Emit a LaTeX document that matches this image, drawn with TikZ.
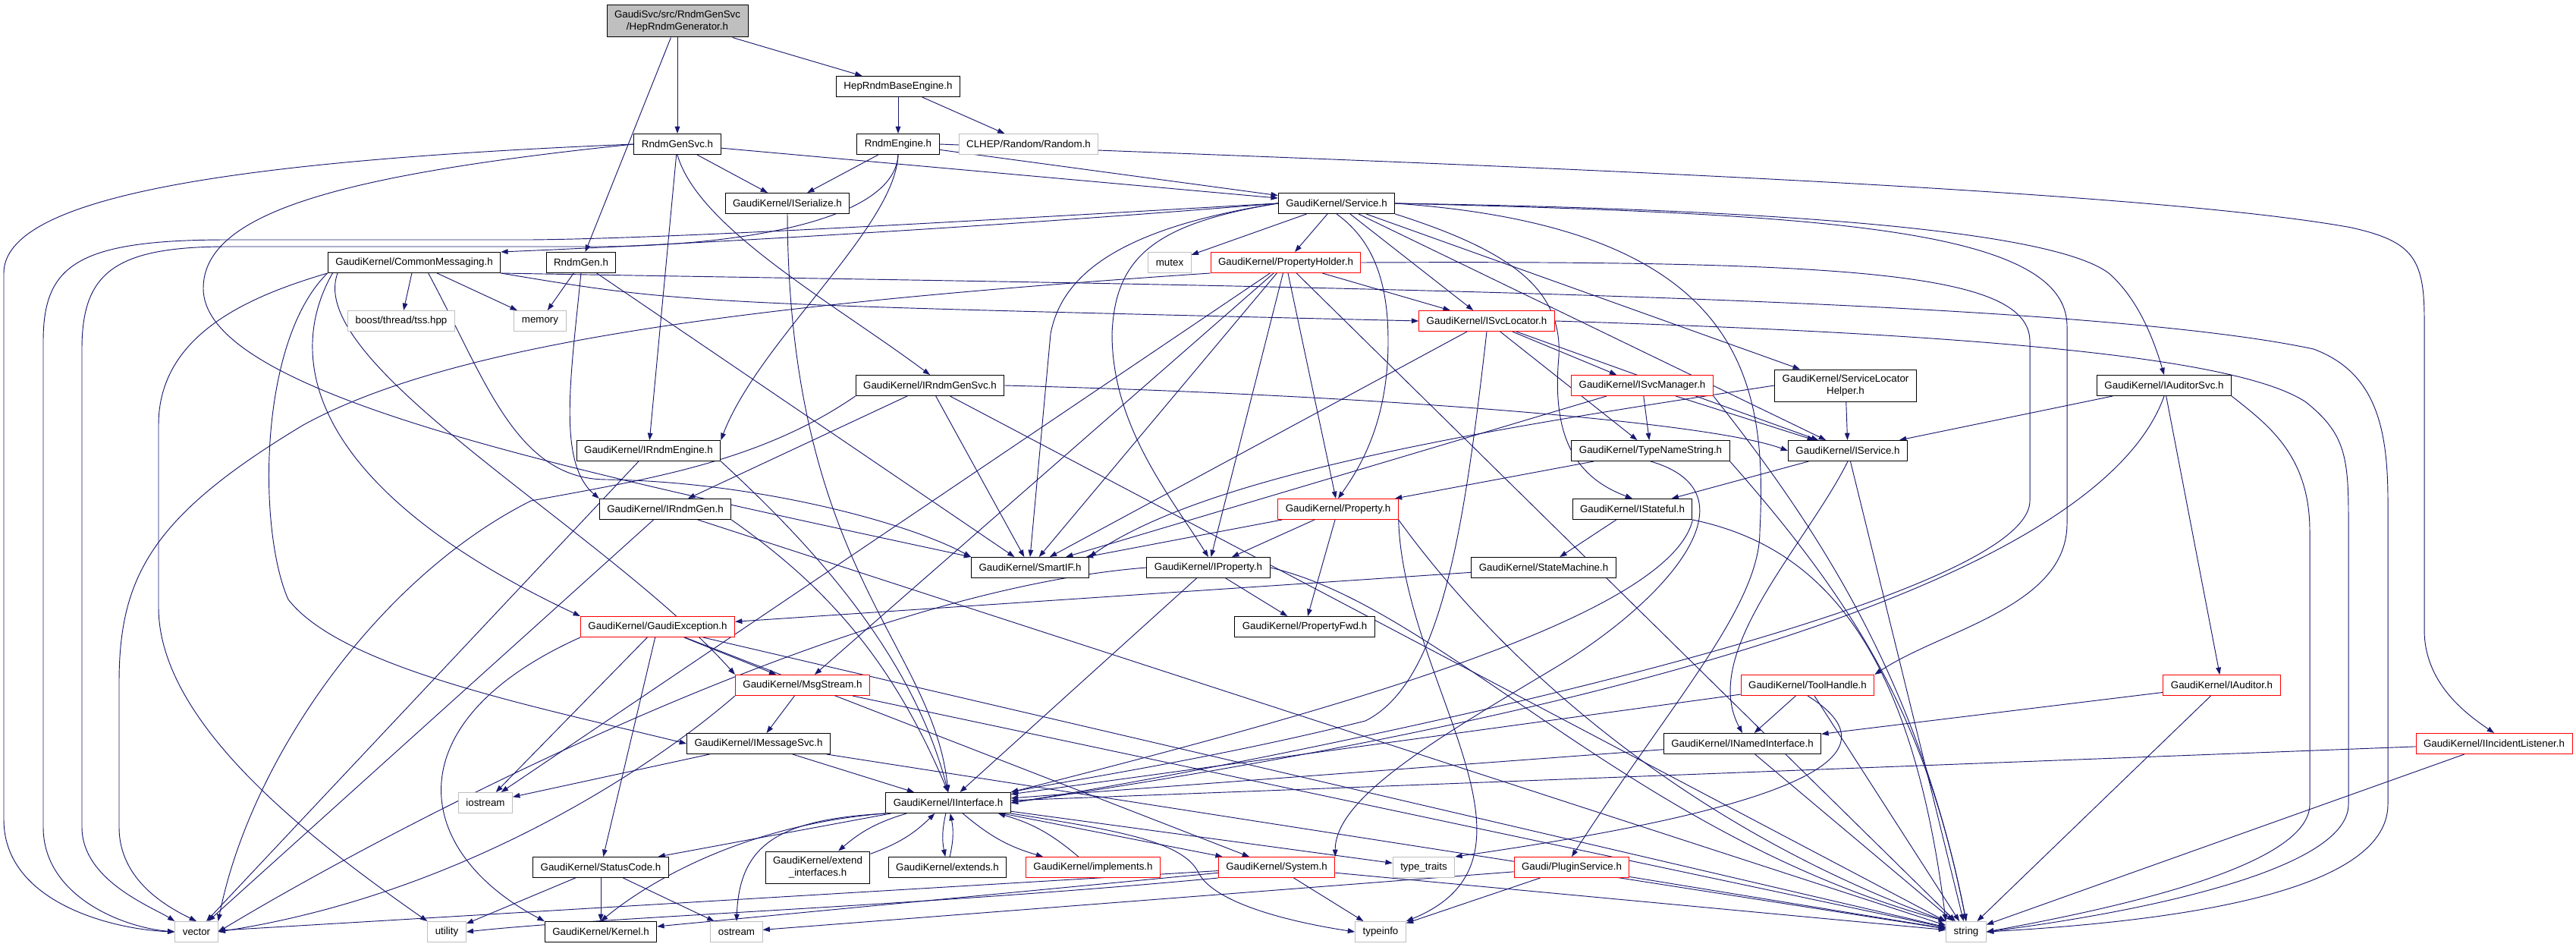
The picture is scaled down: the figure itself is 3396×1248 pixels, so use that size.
\documentclass[tikz,border=0pt]{standalone}
\usepackage{fontspec}
\newfontfamily\dox{Liberation Sans}
\usetikzlibrary{arrows.meta}
\definecolor{navy}{HTML}{191970}
\definecolor{lgray}{HTML}{BFBFBF}
\pgfdeclarelayer{bgzero}
\pgfdeclarelayer{edges}
\pgfsetlayers{bgzero,edges,main}
\begin{document}
\begin{tikzpicture}[x=0.75pt,y=-0.75pt,
  box/.style={draw=black,line width=0.75pt,font=\dox\fontsize{10}{12}\selectfont,inner xsep=7.5pt,inner ysep=0pt,minimum height=20.25pt,align=center,fill=white},
  redbox/.style={box,draw=red},
  graybox/.style={box,draw=lgray},
  twoline/.style={minimum height=31.5pt},
  inc/.style={draw=navy,line width=0.7pt,-{Triangle[length=7pt,width=5pt]}},
]
\begin{pgfonlayer}{bgzero}
\fill[white] (0,0) rectangle (3396,1248);
\end{pgfonlayer}
\useasboundingbox (0,0) rectangle (3396,1248);

% nodes
\node[box,twoline,fill=lgray] (top) at (893,28) {GaudiSvc/src/RndmGenSvc\\/HepRndmGenerator.h};
\node[box] (hrbe) at (1184,114) {HepRndmBaseEngine.h};
\node[box] (rgs) at (893,190) {RndmGenSvc.h};
\node[box] (re) at (1184,190) {RndmEngine.h};
\node[graybox] (clhep) at (1356,190) {CLHEP/Random/Random.h};
\node[box] (iser) at (1038,268) {GaudiKernel/ISerialize.h};
\node[box] (svc) at (1762,268) {GaudiKernel/Service.h};
\node[box] (cm) at (546,346) {GaudiKernel/CommonMessaging.h};
\node[box] (rg) at (766,346) {RndmGen.h};
\node[graybox] (mutex) at (1542,346) {mutex};
\node[redbox] (ph) at (1695,346) {GaudiKernel/PropertyHolder.h};
\node[graybox] (boost) at (529,423) {boost/thread/tss.hpp};
\node[graybox] (memory) at (712,423) {memory};
\node[redbox] (isl) at (1960,423) {GaudiKernel/ISvcLocator.h};
\node[box] (irgs) at (1226,508) {GaudiKernel/IRndmGenSvc.h};
\node[redbox] (ism) at (2165,508) {GaudiKernel/ISvcManager.h};
\node[box,twoline] (slh) at (2433,508) {GaudiKernel/ServiceLocator\\Helper.h};
\node[box] (ias) at (2853,508) {GaudiKernel/IAuditorSvc.h};
\node[box] (ire) at (855,594) {GaudiKernel/IRndmEngine.h};
\node[box] (tns) at (2176,594) {GaudiKernel/TypeNameString.h};
\node[box] (isv) at (2436,594) {GaudiKernel/IService.h};
\node[box] (irg) at (877,671) {GaudiKernel/IRndmGen.h};
\node[redbox] (prop) at (1764,671) {GaudiKernel/Property.h};
\node[box] (ist) at (2152,671) {GaudiKernel/IStateful.h};
\node[box] (sif) at (1358,748) {GaudiKernel/SmartIF.h};
\node[box] (ip) at (1593,748) {GaudiKernel/IProperty.h};
\node[box] (sm) at (2035,748) {GaudiKernel/StateMachine.h};
\node[redbox] (ge) at (867,826) {GaudiKernel/GaudiException.h};
\node[box] (pf) at (1720,826) {GaudiKernel/PropertyFwd.h};
\node[redbox] (ms) at (1058,903) {GaudiKernel/MsgStream.h};
\node[redbox] (th) at (2383,903) {GaudiKernel/ToolHandle.h};
\node[redbox] (ia) at (2929,903) {GaudiKernel/IAuditor.h};
\node[box] (ims) at (1000,980) {GaudiKernel/IMessageSvc.h};
\node[box] (ini) at (2297,980) {GaudiKernel/INamedInterface.h};
\node[redbox] (il) at (3288,980) {GaudiKernel/IIncidentListener.h};
\node[graybox] (iostream) at (640,1058) {iostream};
\node[box] (iface) at (1250,1058) {GaudiKernel/IInterface.h};
\node[box] (sc) at (792,1143) {GaudiKernel/StatusCode.h};
\node[box,twoline] (ei) at (1078,1143) {GaudiKernel/extend\\\_interfaces.h};
\node[box] (ext) at (1249,1143) {GaudiKernel/extends.h};
\node[redbox] (impl) at (1441,1143) {GaudiKernel/implements.h};
\node[redbox] (sys) at (1683,1143) {GaudiKernel/System.h};
\node[graybox] (tt) at (1877,1143) {type\_traits};
\node[redbox] (ps) at (2072,1143) {Gaudi/PluginService.h};
\node[graybox] (vector) at (259,1228) {vector};
\node[graybox] (utility) at (589,1228) {utility};
\node[box] (kernel) at (792,1228) {GaudiKernel/Kernel.h};
\node[graybox] (ostream) at (971,1228) {ostream};
\node[graybox] (typeinfo) at (1820,1228) {typeinfo};
\node[graybox] (string) at (2592,1228) {string};

\begin{pgfonlayer}{edges}
% straight edges
\foreach \t in {hrbe,rgs,rg} \draw[inc] (top) -- (\t);
\foreach \t in {re,clhep} \draw[inc] (hrbe) -- (\t);
\foreach \t in {iser,svc,ire} \draw[inc] (rgs) -- (\t);
\foreach \t in {iser,svc} \draw[inc] (re) -- (\t);
\foreach \t in {mutex,ph,isl,slh,isv} \draw[inc] (svc) -- (\t);
\foreach \t in {boost,memory} \draw[inc] (cm) -- (\t);
\foreach \t in {memory,sif} \draw[inc] (rg) -- (\t);
\foreach \t in {isl,prop,ip,ms,iostream,sif,string} \draw[inc] (ph) -- (\t);
\foreach \t in {ism,tns,isv,sif} \draw[inc] (isl) -- (\t);
\foreach \t in {irg,sif,string} \draw[inc] (irgs) -- (\t);
\foreach \t in {tns,isv,sif} \draw[inc] (ism) -- (\t);
\draw[inc] (slh) -- (isv);
\foreach \t in {isv,ia} \draw[inc] (ias) -- (\t);
\draw[inc] (ire) -- (vector);
\draw[inc] (tns) -- (prop);
\draw[inc] (isv) -- (ist);
\draw[inc] (isv) -- (string);
\foreach \t in {vector,string} \draw[inc] (irg) -- (\t);
\foreach \t in {sif,ip,pf} \draw[inc] (prop) -- (\t);
\foreach \t in {pf,iface} \draw[inc] (ip) -- (\t);
\draw[inc] (ist) -- (sm);
\draw[inc] (sm) -- (ge);
\foreach \t in {ms,iostream,sc,sys,string} \draw[inc] (ge) -- (\t);
\foreach \t in {ims,string} \draw[inc] (ms) -- (\t);
\foreach \t in {ini,iface,string} \draw[inc] (th) -- (\t);
\foreach \t in {ini,string} \draw[inc] (ia) -- (\t);
\foreach \t in {iface,iostream,string} \draw[inc] (ims) -- (\t);
\foreach \t in {iface,string} \draw[inc] (ini) -- (\t);
\foreach \t in {iface,string} \draw[inc] (il) -- (\t);
\foreach \t in {sc,sys,tt} \draw[inc] (iface) -- (\t);
\foreach \t in {ei,ext,impl} {
  \draw[inc] (iface) to[bend right=12] (\t);
  \draw[inc] (\t) to[bend right=12] (iface);
}
\foreach \t in {utility,kernel,ostream} \draw[inc] (sc) -- (\t);
\foreach \t in {kernel,typeinfo,string,vector} \draw[inc] (sys) -- (\t);
\foreach \t in {typeinfo,string,ostream} \draw[inc] (ps) -- (\t);
\draw[inc] (sys.south west) .. controls (1200,1195) and (800,1208) .. (utility.east);

% routed edges
\draw[inc] (rgs.south) .. controls (920,300) and (1100,400) .. (irgs.north);
\draw[inc] (re.south) .. controls (1180,300) and (1000,450) .. (ire.north east);
\draw[inc] (svc.west) .. controls (1300,300) and (900,322) .. (cm.north east);
\draw[inc] (rgs.west) .. controls (300,212) and (5,260) .. (5,360) -- (5,1080) .. controls (5,1190) and (150,1225) .. (vector.west);
\draw[inc] (svc.west) .. controls (1300,290) and (900,314) .. (700,316) -- (300,316) .. controls (100,316) and (57,350) .. (57,450) -- (57,1090) .. controls (57,1180) and (160,1222) .. (vector.west);
\draw[inc] (re.south) .. controls (1180,285) and (1000,322) .. (800,325) -- (300,325) .. controls (150,325) and (108,360) .. (108,460) -- (108,1090) .. controls (108,1160) and (200,1195) .. (vector.north west);
\draw[inc] (ph.south west) .. controls (1000,400) and (600,450) .. (400,560) .. controls (200,680) and (157,760) .. (157,900) -- (157,1090) .. controls (157,1160) and (220,1195) .. (vector.north);
\draw[inc] (cm.south west) .. controls (330,390) and (209,440) .. (209,560) -- (209,800) .. controls (209,950) and (400,1100) .. (utility.north west);
\draw[inc] (rgs.west) .. controls (450,230) and (268,280) .. (268,380) .. controls (268,520) and (750,620) .. (sif.north west);
\draw[inc] (cm.south east) .. controls (900,400) .. (isl.west);
% CommonMessaging fan below
\draw[inc] (cm.south west) .. controls (340,450) and (340,700) .. (380,790) .. controls (450,880) and (700,930) .. (ims.west);
\draw[inc] ([xshift=5pt]cm.south west) .. controls (370,480) and (420,650) .. (ge.north west);
\draw[inc] ([xshift=10pt]cm.south west) .. controls (400,480) and (800,700) .. (ms.north west);
\draw[inc] ([xshift=14pt]cm.south) .. controls (640,500) and (680,632) .. (800,632) .. controls (1000,635) and (1200,690) .. (sif.north west);
\draw[inc] (rg.south) .. controls (752,500) and (735,610) .. (irg.north west);
\draw[inc] (iser.south) .. controls (1040,750) and (1230,850) .. (iface.north);
\draw[inc] (ire.south east) .. controls (1050,700) and (1200,850) .. (iface.north);
\draw[inc] (irg.south east) .. controls (1100,780) and (1180,880) .. (iface.north);
\draw[inc] (irgs.south west) .. controls (1000,610) and (850,632) .. (700,660) .. controls (500,760) and (330,1000) .. (vector.north east);
\draw[inc] (irgs.east) .. controls (1800,520) and (2250,555) .. (isv.west);
\draw[inc] (ip.west) .. controls (1100,780) and (500,1100) .. (vector.east);
\draw[inc] (ms.south west) .. controls (850,1020) and (600,1180) .. (vector.east);
\draw[inc] (ip.east) .. controls (1900,800) and (2150,1100) .. (string.north west);
\draw[inc] (prop.south east) .. controls (2000,900) and (2250,1100) .. (string.north west);
\draw[inc] (ism.south east) .. controls (2400,700) and (2530,900) .. (string.north);
\draw[inc] (svc.west) .. controls (1480,300) and (1400,360) .. (1385,440) -- (sif.north);
\draw[inc] (svc.west) .. controls (1520,295) and (1470,340) .. (1466,440) .. controls (1466,560) and (1540,650) .. (ip.north);
\draw[inc] (svc.south) .. controls (1815,320) and (1830,380) .. (1830,450) .. controls (1830,560) and (1790,620) .. (prop.north);
\draw[inc] (svc.south east) .. controls (1990,330) and (2060,380) .. (2055,470) .. controls (2045,580) and (2080,630) .. (ist.north);
\draw[inc] (tns.south) .. controls (2320,650) and (2200,790) .. (2050,880) .. controls (1900,970) and (1760,1050) .. (sys.north east);
\draw[inc] (tns.south east) .. controls (2450,800) and (2540,950) .. (string.north);
\draw[inc] (isv.south) .. controls (2380,720) and (2240,860) .. (ini.north);
\draw[inc] (ist.south east) .. controls (2400,720) and (2520,850) .. (string.north west);
\draw[inc] (ist.south east) .. controls (2200,820) and (1700,950) .. (iface.north east);
\draw[inc] (slh.west) .. controls (2000,560) and (1600,620) .. (sif.north east);
\draw[inc] (th.south) .. controls (2500,990) and (2400,1060) .. (tt.north east);
\draw[inc] (ge.south west) .. controls (520,950) and (540,1120) .. (kernel.north west);
\draw[inc] (iface.south west) .. controls (1030,1080) and (975,1110) .. (ostream.north);
\draw[inc] (iface.south west) .. controls (1000,1085) and (870,1150) .. (kernel.north);
\draw[inc] (re.east) .. controls (1800,212) and (2800,245) .. (3100,300) .. controls (3180,318) and (3196,340) .. (3196,420) -- (3196,830) .. controls (3196,900) and (3250,940) .. (il.north);
\draw[inc] (svc.east) .. controls (2300,275) and (2700,300) .. (2780,360) .. controls (2820,395) and (2840,450) .. (ias.north);
\draw[inc] (svc.east) .. controls (2400,282) and (2725,300) .. (2725,430) -- (2725,690) .. controls (2725,800) and (2560,830) .. (th.north east);
\draw[inc] (ph.east) .. controls (2450,343) and (2676,360) .. (2676,450) -- (2676,660) .. controls (2676,800) and (1700,1000) .. (iface.east);
\draw[inc] (svc.east) .. controls (2300,300) and (2330,500) .. (2320,700) .. controls (2320,800) and (2200,930) .. (ps.north);
\draw[inc] (isl.east) .. controls (2600,440) and (2950,470) .. (3040,530) .. controls (3090,570) and (3096,600) .. (3096,680) -- (3096,1060) .. controls (3096,1150) and (2800,1205) .. (string.east);
\draw[inc] (cm.south east) .. controls (1500,375) and (2700,385) .. (3050,460) .. controls (3130,490) and (3148,560) .. (3148,660) -- (3148,1060) .. controls (3148,1180) and (2850,1215) .. (string.east);
\draw[inc] (ias.south east) .. controls (2990,560) and (3045,600) .. (3045,700) -- (3045,1060) .. controls (3045,1140) and (2800,1195) .. (string.east);
\draw[inc] (ias.south) .. controls (2790,700) and (2400,900) .. (iface.east);
\draw[inc] (isl.south) .. controls (1930,700) and (1900,900) .. (1800,950) .. controls (1600,1000) and (1400,1030) .. (iface.north east);
\draw[inc] (prop.south east) .. controls (1850,900) and (2060,1130) .. (typeinfo.north east);
\draw[inc] (iface.south east) .. controls (1480,1095) and (1560,1110) .. (1580,1150) .. controls (1600,1190) and (1700,1215) .. (typeinfo.west);
\end{pgfonlayer}
\end{tikzpicture}
\end{document}
